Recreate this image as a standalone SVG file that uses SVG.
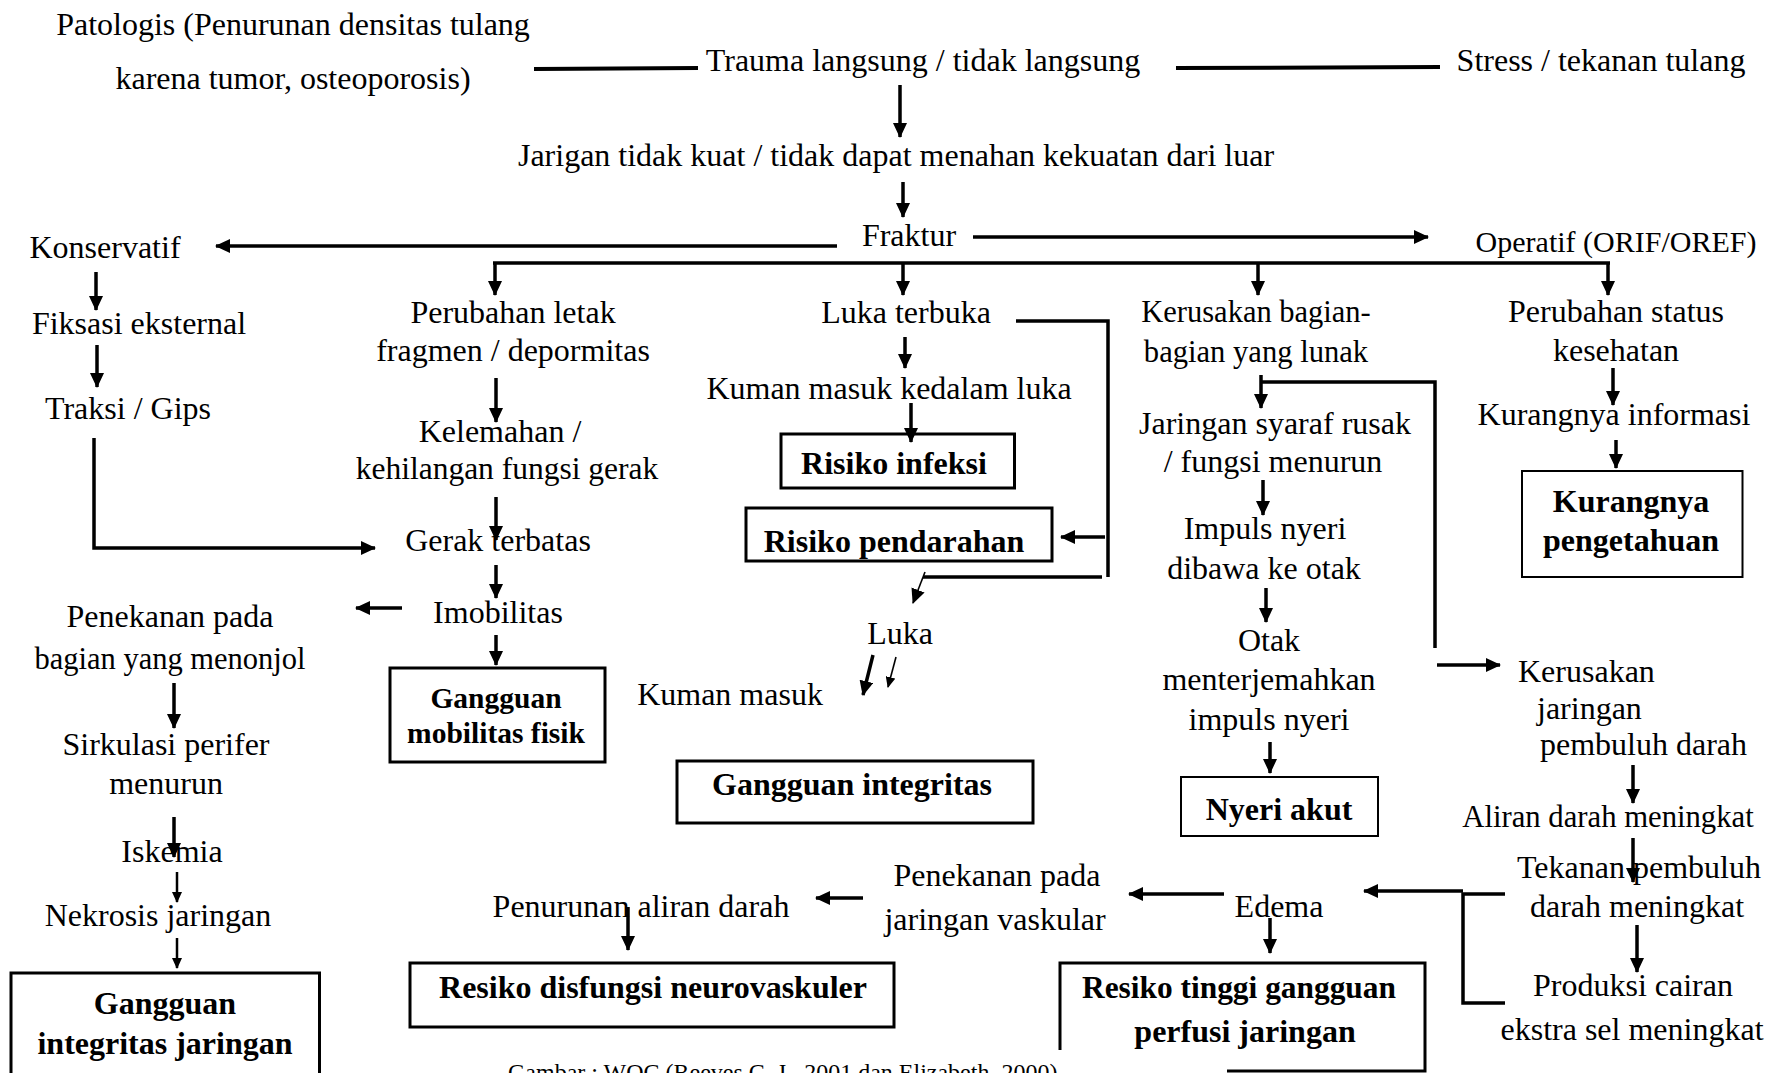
<svg xmlns="http://www.w3.org/2000/svg" width="1773" height="1073" viewBox="0 0 1773 1073">
<style>
text{font-family:"Liberation Serif","Times New Roman",serif;font-size:32px;fill:#000;text-anchor:middle}
.b{font-weight:bold}
.s{text-anchor:start}
.cap{font-size:24px;text-anchor:start}
.box{fill:none;stroke:#000;stroke-width:3}
.thin{stroke-width:2}
.c line,.c polyline,.c path{fill:none;stroke:#000;stroke-width:3.5}
.c .t{stroke-width:2.5}
.c .h{stroke-width:1.6}
.c .w{stroke-width:4}
</style>
<defs>
<marker id="ar" markerUnits="userSpaceOnUse" viewBox="0 0 15 14" markerWidth="15" markerHeight="14" refX="14" refY="7" orient="auto">
<path d="M0,0 L15,7 L0,14 z" fill="#000"/>
</marker>
<marker id="as" markerUnits="userSpaceOnUse" viewBox="0 0 11 10" markerWidth="11" markerHeight="10" refX="10" refY="5" orient="auto">
<path d="M0,0 L11,5 L0,10 z" fill="#000"/>
</marker>
</defs>
<rect width="1773" height="1073" fill="#fff"/>

<g id="connectors" class="c">
<line class="w" x1="534" y1="69" x2="698" y2="68"/>
<line class="w" x1="1176" y1="68" x2="1440" y2="67"/>
<line x1="900" y1="85" x2="900" y2="137" marker-end="url(#ar)"/>
<line x1="903" y1="182" x2="903" y2="217" marker-end="url(#ar)"/>
<line x1="837" y1="246" x2="216" y2="246" marker-end="url(#ar)"/>
<line x1="973" y1="237" x2="1428" y2="237" marker-end="url(#ar)"/>
<line x1="493" y1="263" x2="1610" y2="263"/>
<line x1="495" y1="263" x2="495" y2="295" marker-end="url(#ar)"/>
<line x1="903" y1="263" x2="903" y2="295" marker-end="url(#ar)"/>
<line x1="1258" y1="263" x2="1258" y2="295" marker-end="url(#ar)"/>
<line x1="1608" y1="263" x2="1608" y2="295" marker-end="url(#ar)"/>
<line x1="96" y1="272" x2="96" y2="310" marker-end="url(#ar)"/>
<line x1="97" y1="345" x2="97" y2="387" marker-end="url(#ar)"/>
<polyline points="94,438 94,548 375,548" marker-end="url(#ar)"/>
<line x1="496" y1="378" x2="496" y2="422" marker-end="url(#ar)"/>
<line x1="496" y1="497" x2="496" y2="540" marker-end="url(#ar)"/>
<line x1="496" y1="565" x2="496" y2="598" marker-end="url(#ar)"/>
<line x1="402" y1="608" x2="356" y2="608" marker-end="url(#ar)"/>
<line x1="496" y1="635" x2="496" y2="665" marker-end="url(#ar)"/>
<line x1="174" y1="683" x2="174" y2="728" marker-end="url(#ar)"/>
<line x1="174" y1="817" x2="174" y2="857" marker-end="url(#ar)"/>
<line class="t" x1="177" y1="872" x2="177" y2="902" marker-end="url(#as)"/>
<line class="t" x1="177" y1="938" x2="177" y2="968" marker-end="url(#as)"/>
<line x1="905" y1="337" x2="905" y2="368" marker-end="url(#ar)"/>
<line x1="911" y1="403" x2="911" y2="442" marker-end="url(#ar)"/>
<polyline points="1016,321 1108,321 1108,577"/>
<line x1="1105" y1="537" x2="1061" y2="537" marker-end="url(#ar)"/>
<line x1="1102" y1="577" x2="923" y2="577"/>
<line class="h" x1="925" y1="572" x2="913" y2="603" marker-end="url(#ar)"/>
<line x1="873" y1="655" x2="863" y2="695" marker-end="url(#ar)"/>
<line class="h" x1="896" y1="657" x2="888" y2="687" marker-end="url(#as)"/>
<line x1="863" y1="898" x2="816" y2="898" marker-end="url(#ar)"/>
<line x1="628" y1="907" x2="628" y2="950" marker-end="url(#ar)"/>
<line x1="1261" y1="375" x2="1261" y2="408" marker-end="url(#ar)"/>
<polyline points="1261,382 1435,382 1435,648"/>
<line x1="1437" y1="665" x2="1500" y2="665" marker-end="url(#ar)"/>
<line x1="1263" y1="480" x2="1263" y2="515" marker-end="url(#ar)"/>
<line x1="1266" y1="588" x2="1266" y2="622" marker-end="url(#ar)"/>
<line x1="1270" y1="742" x2="1270" y2="773" marker-end="url(#ar)"/>
<line x1="1613" y1="368" x2="1613" y2="405" marker-end="url(#ar)"/>
<line x1="1616" y1="440" x2="1616" y2="468" marker-end="url(#ar)"/>
<line x1="1633" y1="765" x2="1633" y2="803" marker-end="url(#ar)"/>
<line x1="1633" y1="838" x2="1633" y2="882" marker-end="url(#ar)"/>
<line x1="1637" y1="925" x2="1637" y2="972" marker-end="url(#ar)"/>
<path d="M1505,894 H1463 V1003 H1505"/>
<line x1="1463" y1="891" x2="1364" y2="891" marker-end="url(#ar)"/>
<line x1="1224" y1="894" x2="1129" y2="894" marker-end="url(#ar)"/>
<line x1="1270" y1="918" x2="1270" y2="953" marker-end="url(#ar)"/>
</g>

<g id="patologis"><text x="293" y="35">Patologis (Penurunan densitas tulang</text><text x="293" y="89">karena tumor, osteoporosis)</text></g>
<g id="trauma"><text x="923" y="71">Trauma langsung / tidak langsung</text></g>
<g id="stress"><text x="1601" y="71">Stress / tekanan tulang</text></g>
<g id="jarigan"><text x="896" y="166">Jarigan tidak kuat / tidak dapat menahan kekuatan dari luar</text></g>
<g id="fraktur"><text x="909" y="246">Fraktur</text></g>
<g id="konservatif"><text x="105" y="258">Konservatif</text></g>
<g id="operatif"><text x="1616" y="252" style="font-size:30px">Operatif (ORIF/OREF)</text></g>
<g id="fiksasi"><text x="139" y="334">Fiksasi eksternal</text></g>
<g id="traksi"><text x="128" y="419">Traksi / Gips</text></g>
<g id="perubahan-letak"><text x="513" y="323">Perubahan letak</text><text x="513" y="361">fragmen / depormitas</text></g>
<g id="kelemahan"><text x="500" y="442">Kelemahan /</text><text x="507" y="479" style="font-size:31.5px">kehilangan fungsi gerak</text></g>
<g id="gerak"><text x="498" y="551">Gerak terbatas</text></g>
<g id="imobilitas"><text x="498" y="623">Imobilitas</text></g>
<g id="penekanan-menonjol"><text x="170" y="627">Penekanan pada</text><text x="170" y="669" style="font-size:30.5px">bagian yang menonjol</text></g>
<g id="gangguan-mobilitas"><rect class="box" x="390" y="668" width="215" height="94"/><text class="b" x="496" y="708" style="font-size:29.5px">Gangguan</text><text class="b" x="496" y="743" style="font-size:29.5px">mobilitas fisik</text></g>
<g id="sirkulasi"><text x="166" y="755">Sirkulasi perifer</text><text x="166" y="794">menurun</text></g>
<g id="iskemia"><text x="172" y="862">Iskemia</text></g>
<g id="nekrosis"><text x="158" y="926">Nekrosis jaringan</text></g>
<g id="gangguan-integritas-jaringan"><rect class="box" stroke-width="2.5" x="11" y="973" width="308.5" height="110"/><text class="b" x="165" y="1014">Gangguan</text><text class="b" x="165" y="1054">integritas jaringan</text></g>
<g id="luka-terbuka"><text x="906" y="323">Luka terbuka</text></g>
<g id="kuman-luka"><text x="889" y="399">Kuman masuk kedalam luka</text></g>
<g id="risiko-infeksi"><rect class="box" x="781" y="434" width="233.5" height="54"/><text class="b" x="894" y="474">Risiko infeksi</text></g>
<g id="risiko-pendarahan"><rect class="box" x="746" y="508" width="306" height="53"/><text class="b" x="894" y="552">Risiko pendarahan</text></g>
<g id="luka"><text x="900" y="644">Luka</text></g>
<g id="kuman-masuk"><text x="730" y="705">Kuman masuk</text></g>
<g id="gangguan-integritas"><rect class="box" x="677" y="761" width="356" height="62"/><text class="b" x="852" y="795">Gangguan integritas</text></g>
<g id="penekanan-vaskular"><text x="997" y="886">Penekanan pada</text><text x="995" y="930">jaringan vaskular</text></g>
<g id="penurunan-aliran"><text x="641" y="917">Penurunan aliran darah</text></g>
<g id="resiko-disfungsi"><rect class="box" x="410" y="963" width="484" height="64"/><text class="b" x="653" y="998">Resiko disfungsi neurovaskuler</text></g>
<g id="kerusakan-lunak"><text x="1256" y="322" style="font-size:30.5px">Kerusakan bagian-</text><text x="1256" y="362" style="font-size:30.6px">bagian yang lunak</text></g>
<g id="jaringan-syaraf"><text x="1275" y="434">Jaringan syaraf rusak</text><text x="1273" y="472">/ fungsi menurun</text></g>
<g id="impuls"><text x="1265" y="539">Impuls nyeri</text><text x="1264" y="579">dibawa ke otak</text></g>
<g id="otak"><text x="1269" y="651">Otak</text><text x="1269" y="690">menterjemahkan</text><text x="1269" y="730">impuls nyeri</text></g>
<g id="nyeri-akut"><rect class="box thin" x="1181" y="777" width="197" height="59"/><text class="b" x="1279" y="820">Nyeri akut</text></g>
<g id="edema"><text x="1279" y="917">Edema</text></g>
<g id="resiko-tinggi"><path class="box" d="M1060,1050 V963 H1425 V1071 H1227"/><text class="b" x="1239" y="998" style="font-size:31.4px">Resiko tinggi gangguan</text><text class="b" x="1245" y="1042">perfusi jaringan</text></g>
<g id="perubahan-status"><text x="1616" y="322">Perubahan status</text><text x="1616" y="361">kesehatan</text></g>
<g id="kurang-informasi"><text x="1614" y="425">Kurangnya informasi</text></g>
<g id="kurang-pengetahuan"><rect class="box thin" x="1522" y="471" width="220.5" height="106"/><text class="b" x="1631" y="512">Kurangnya</text><text class="b" x="1631" y="551">pengetahuan</text></g>
<g id="kerusakan-pembuluh"><text class="s" x="1518" y="682">Kerusakan</text><text class="s" x="1537" y="719">jaringan</text><text class="s" x="1540" y="755">pembuluh darah</text></g>
<g id="aliran"><text x="1608" y="827" style="font-size:30.7px">Aliran darah meningkat</text></g>
<g id="tekanan"><text x="1639" y="878">Tekanan pembuluh</text><text x="1637" y="917">darah meningkat</text></g>
<g id="produksi"><text x="1633" y="996">Produksi cairan</text><text x="1632" y="1040">ekstra sel meningkat</text></g>
<g id="caption"><text class="cap" x="508" y="1080">Gambar : WOC (Reeves C. J., 2001 dan Elizabeth, 2000)</text></g>
</svg>
